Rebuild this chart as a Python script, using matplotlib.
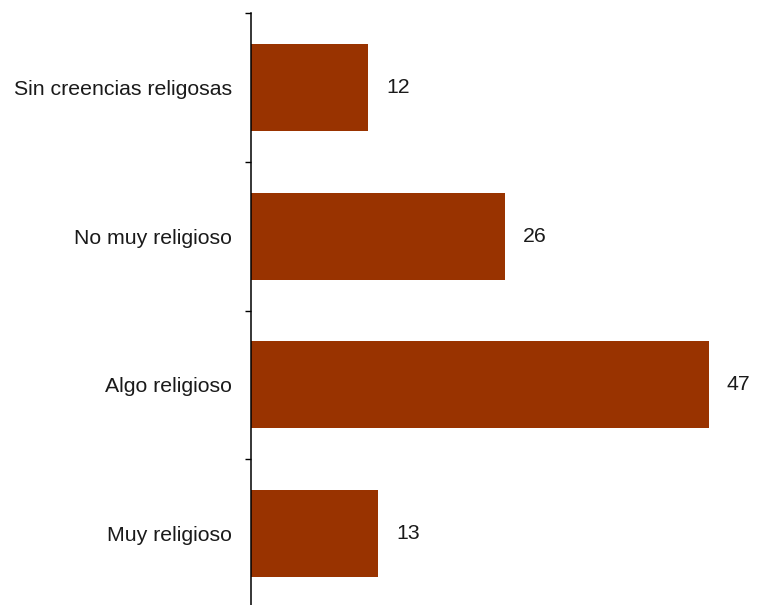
import matplotlib.pyplot as plt
import numpy as np

categorias = ['Sin creencias religosas', 'No muy religioso', 'Algo religioso', 'Muy religioso']
valores = [12, 26, 47, 13]

plt.rcParams['font.family'] = ['Liberation Sans', 'DejaVu Sans']

fig = plt.figure(figsize=(7.57, 6.05), dpi=100)
ax = fig.add_axes([0.3322, -0.005, 0.666, 0.9835])

y = np.arange(len(categorias))
barras = ax.barh(y, valores, height=0.585, color='#993300')
ax.bar_label(barras, labels=[str(v) for v in valores], padding=13, fontsize=15.3, color='#1a1a1a')

ax.set_ylim(len(categorias) - 0.5, -0.5)
ax.set_xlim(0, 51.8)
ax.set_yticks(y)
ax.set_yticklabels(categorias, fontsize=15.3, color='#1a1a1a')
ax.set_yticks(np.arange(len(categorias) + 1) - 0.5, minor=True)
ax.tick_params(axis='y', which='major', length=0, pad=14)
ax.tick_params(axis='y', which='minor', length=4.5, width=1, direction='out')
ax.set_xticks([])
for s in ['top', 'right', 'bottom']:
    ax.spines[s].set_visible(False)
ax.spines['left'].set_linewidth(1.1)

fig.savefig('out.png', dpi=100)
